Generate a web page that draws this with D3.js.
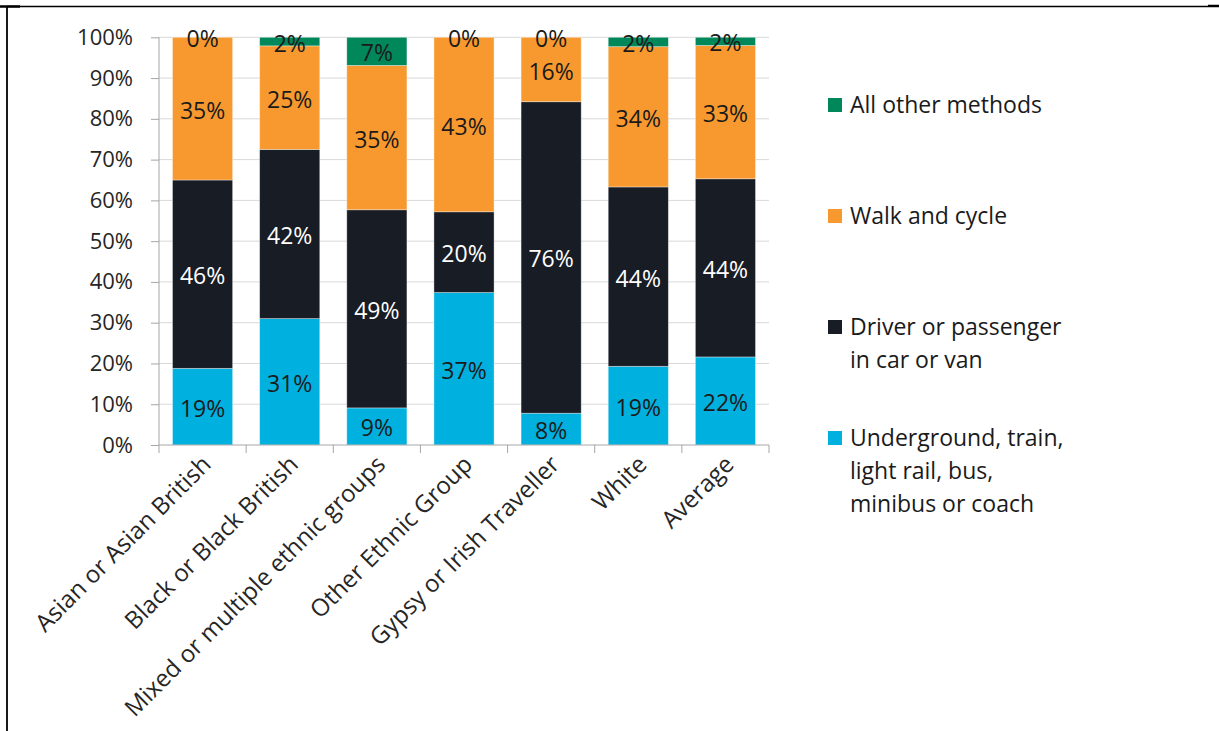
<!DOCTYPE html>
<html>
<head>
<meta charset="utf-8">
<script src="https://cdn.jsdelivr.net/npm/d3@7"></script>
<style>
  body { margin: 0; background: #fff; }
  svg { display: block; font-family: "Open Sans", sans-serif; }
  .grid line { stroke: #d9d9d9; }
  .axis path, .axis line { stroke: #a6a6a6; }
  .axis text { fill: #262626; font-size: 22px; font-family: "Open Sans", sans-serif; }
</style>
</head>
<body>
<svg id="chart" width="1219" height="731"></svg>
<script>
// categories (x axis)
var groups = ["Asian or Asian British", "Black or Black British", "Mixed or multiple ethnic groups",
  "Other Ethnic Group", "Gypsy or Irish Traveller", "White", "Average"];

// series values in %, bottom to top
var underground = [18.8, 31.0, 9.1, 37.4, 7.8, 19.3, 21.6];
var driver      = [46.2, 41.5, 48.6, 19.8, 76.4, 44.0, 43.7];
var walk        = [35.0, 25.4, 35.4, 42.8, 15.8, 34.4, 32.7];
var other       = [0, 2.1, 6.9, 0, 0, 2.3, 2.0];

var seriesNames = ["Underground, train, light rail, bus, minibus or coach",
  "Driver or passenger in car or van", "Walk and cycle", "All other methods"];
var seriesColors = ["#00b0de", "#181c24", "#f7992f", "#00875a"];
var labelColors = ["#1a1a1a", "#ffffff", "#1a1a1a", "#1a1a1a"];
// legend text split into lines
var legendLines = [["Underground, train,", "light rail, bus,", "minibus or coach"],
  ["Driver or passenger", "in car or van"], ["Walk and cycle"], ["All other methods"]];

var yTicks = [0, 10, 20, 30, 40, 50, 60, 70, 80, 90, 100];

var svg = d3.select("#chart");

// frame around the chart
svg.append("line").attr("x1", 7).attr("x2", 1208).attr("y1", 6.5).attr("y2", 6.5)
  .attr("stroke", "#000").attr("stroke-width", 1.5);
svg.append("line").attr("x1", 7).attr("x2", 7).attr("y1", 6).attr("y2", 731)
  .attr("stroke", "#000").attr("stroke-width", 1.8);
svg.append("line").attr("x1", 0).attr("x2", 20).attr("y1", 6.5).attr("y2", 6.5)
  .attr("stroke", "#000").attr("stroke-width", 2.5);
svg.append("line").attr("x1", 1208).attr("x2", 1219).attr("y1", 6).attr("y2", 6)
  .attr("stroke", "#000").attr("stroke-width", 2.5);

var x = d3.scaleBand().domain(groups).range([159, 769]).paddingInner(0.31).paddingOuter(0.155);
var y = d3.scaleLinear().domain([0, 100]).range([445, 37.3]);

// gridlines
svg.append("g").attr("class", "grid")
  .selectAll("line").data(yTicks.slice(1)).enter().append("line")
  .attr("x1", 159).attr("x2", 769)
  .attr("y1", function (d) { return y(d); })
  .attr("y2", function (d) { return y(d); });

// stack the data
var rows = groups.map(function (g, i) {
  return { group: g, s0: underground[i], s1: driver[i], s2: walk[i], s3: other[i] };
});
var stack = d3.stack().keys(["s0", "s1", "s2", "s3"]);
var stacked = stack(rows);

var layer = svg.selectAll(".layer")
  .data(stacked)
  .enter().append("g")
  .attr("class", "layer")
  .attr("fill", function (d, i) { return seriesColors[i]; });

layer.selectAll("rect")
  .data(function (d) { return d; })
  .enter().append("rect")
  .attr("x", function (d) { return x(d.data.group); })
  .attr("width", x.bandwidth())
  .attr("y", function (d) { return y(d[1]); })
  .attr("height", function (d) { return y(d[0]) - y(d[1]); })
  .attr("stroke", "#ffffff").attr("stroke-opacity", 0.45).attr("stroke-width", 0.8);

// data labels
stacked.forEach(function (s, si) {
  svg.append("g").selectAll("text")
    .data(s)
    .enter().append("text")
    .attr("x", function (d) { return x(d.data.group) + x.bandwidth() / 2; })
    .attr("y", function (d) { return y((d[0] + d[1]) / 2) + 1; })
    .attr("text-anchor", "middle")
    .attr("dominant-baseline", "central")
    .style("font-size", "23px")
    .style("fill", labelColors[si])
    .text(function (d) { return Math.round(d[1] - d[0]) + "%"; });
});

// y axis
var yAxis = svg.append("g").attr("class", "axis")
  .attr("transform", "translate(159,0)")
  .call(d3.axisLeft(y).tickValues(yTicks).tickSize(8).tickPadding(18)
    .tickFormat(function (d) { return d + "%"; }));
yAxis.attr("font-family", null).attr("font-size", null);
yAxis.select(".domain").attr("d", "M0," + y(100) + "V" + y(0));

// x axis with ticks at category boundaries
var xAxis = svg.append("g").attr("class", "axis")
  .attr("transform", "translate(0,445)");
xAxis.append("line").attr("x1", 159).attr("x2", 769).attr("y1", 0).attr("y2", 0);
var bounds = groups.map(function (g) { return x(g) - x.step() * x.paddingInner() / 2; });
bounds.push(769);
xAxis.selectAll(".tick").data(bounds).enter().append("line")
  .attr("x1", function (d) { return d; }).attr("x2", function (d) { return d; })
  .attr("y1", 0).attr("y2", 8);
xAxis.selectAll(".xlabel").data(groups).enter().append("text")
  .attr("class", "xlabel")
  .attr("text-anchor", "end")
  .style("font-size", "24px")
  .attr("transform", function (d) {
    return "translate(" + (x(d) + x.bandwidth() / 2 - 2) + ",9) rotate(-45)";
  })
  .attr("dy", "0.7em")
  .text(function (d) { return d; });

// legend, top to bottom
var legendY = [112, 223, 334, 445];
var legend = svg.append("g");
[3, 2, 1, 0].forEach(function (si, k) {
  var g = legend.append("g");
  g.append("rect").attr("x", 828).attr("y", legendY[k] - 14)
    .attr("width", 14).attr("height", 14).attr("fill", seriesColors[si]);
  g.selectAll("text").data(legendLines[si]).enter().append("text")
    .attr("x", 850)
    .attr("y", function (d, j) { return legendY[k] + 1 + j * 33; })
    .style("font-size", "23px")
    .style("fill", "#1a1a1a")
    .text(function (d) { return d; });
});
</script>
</body>
</html>
